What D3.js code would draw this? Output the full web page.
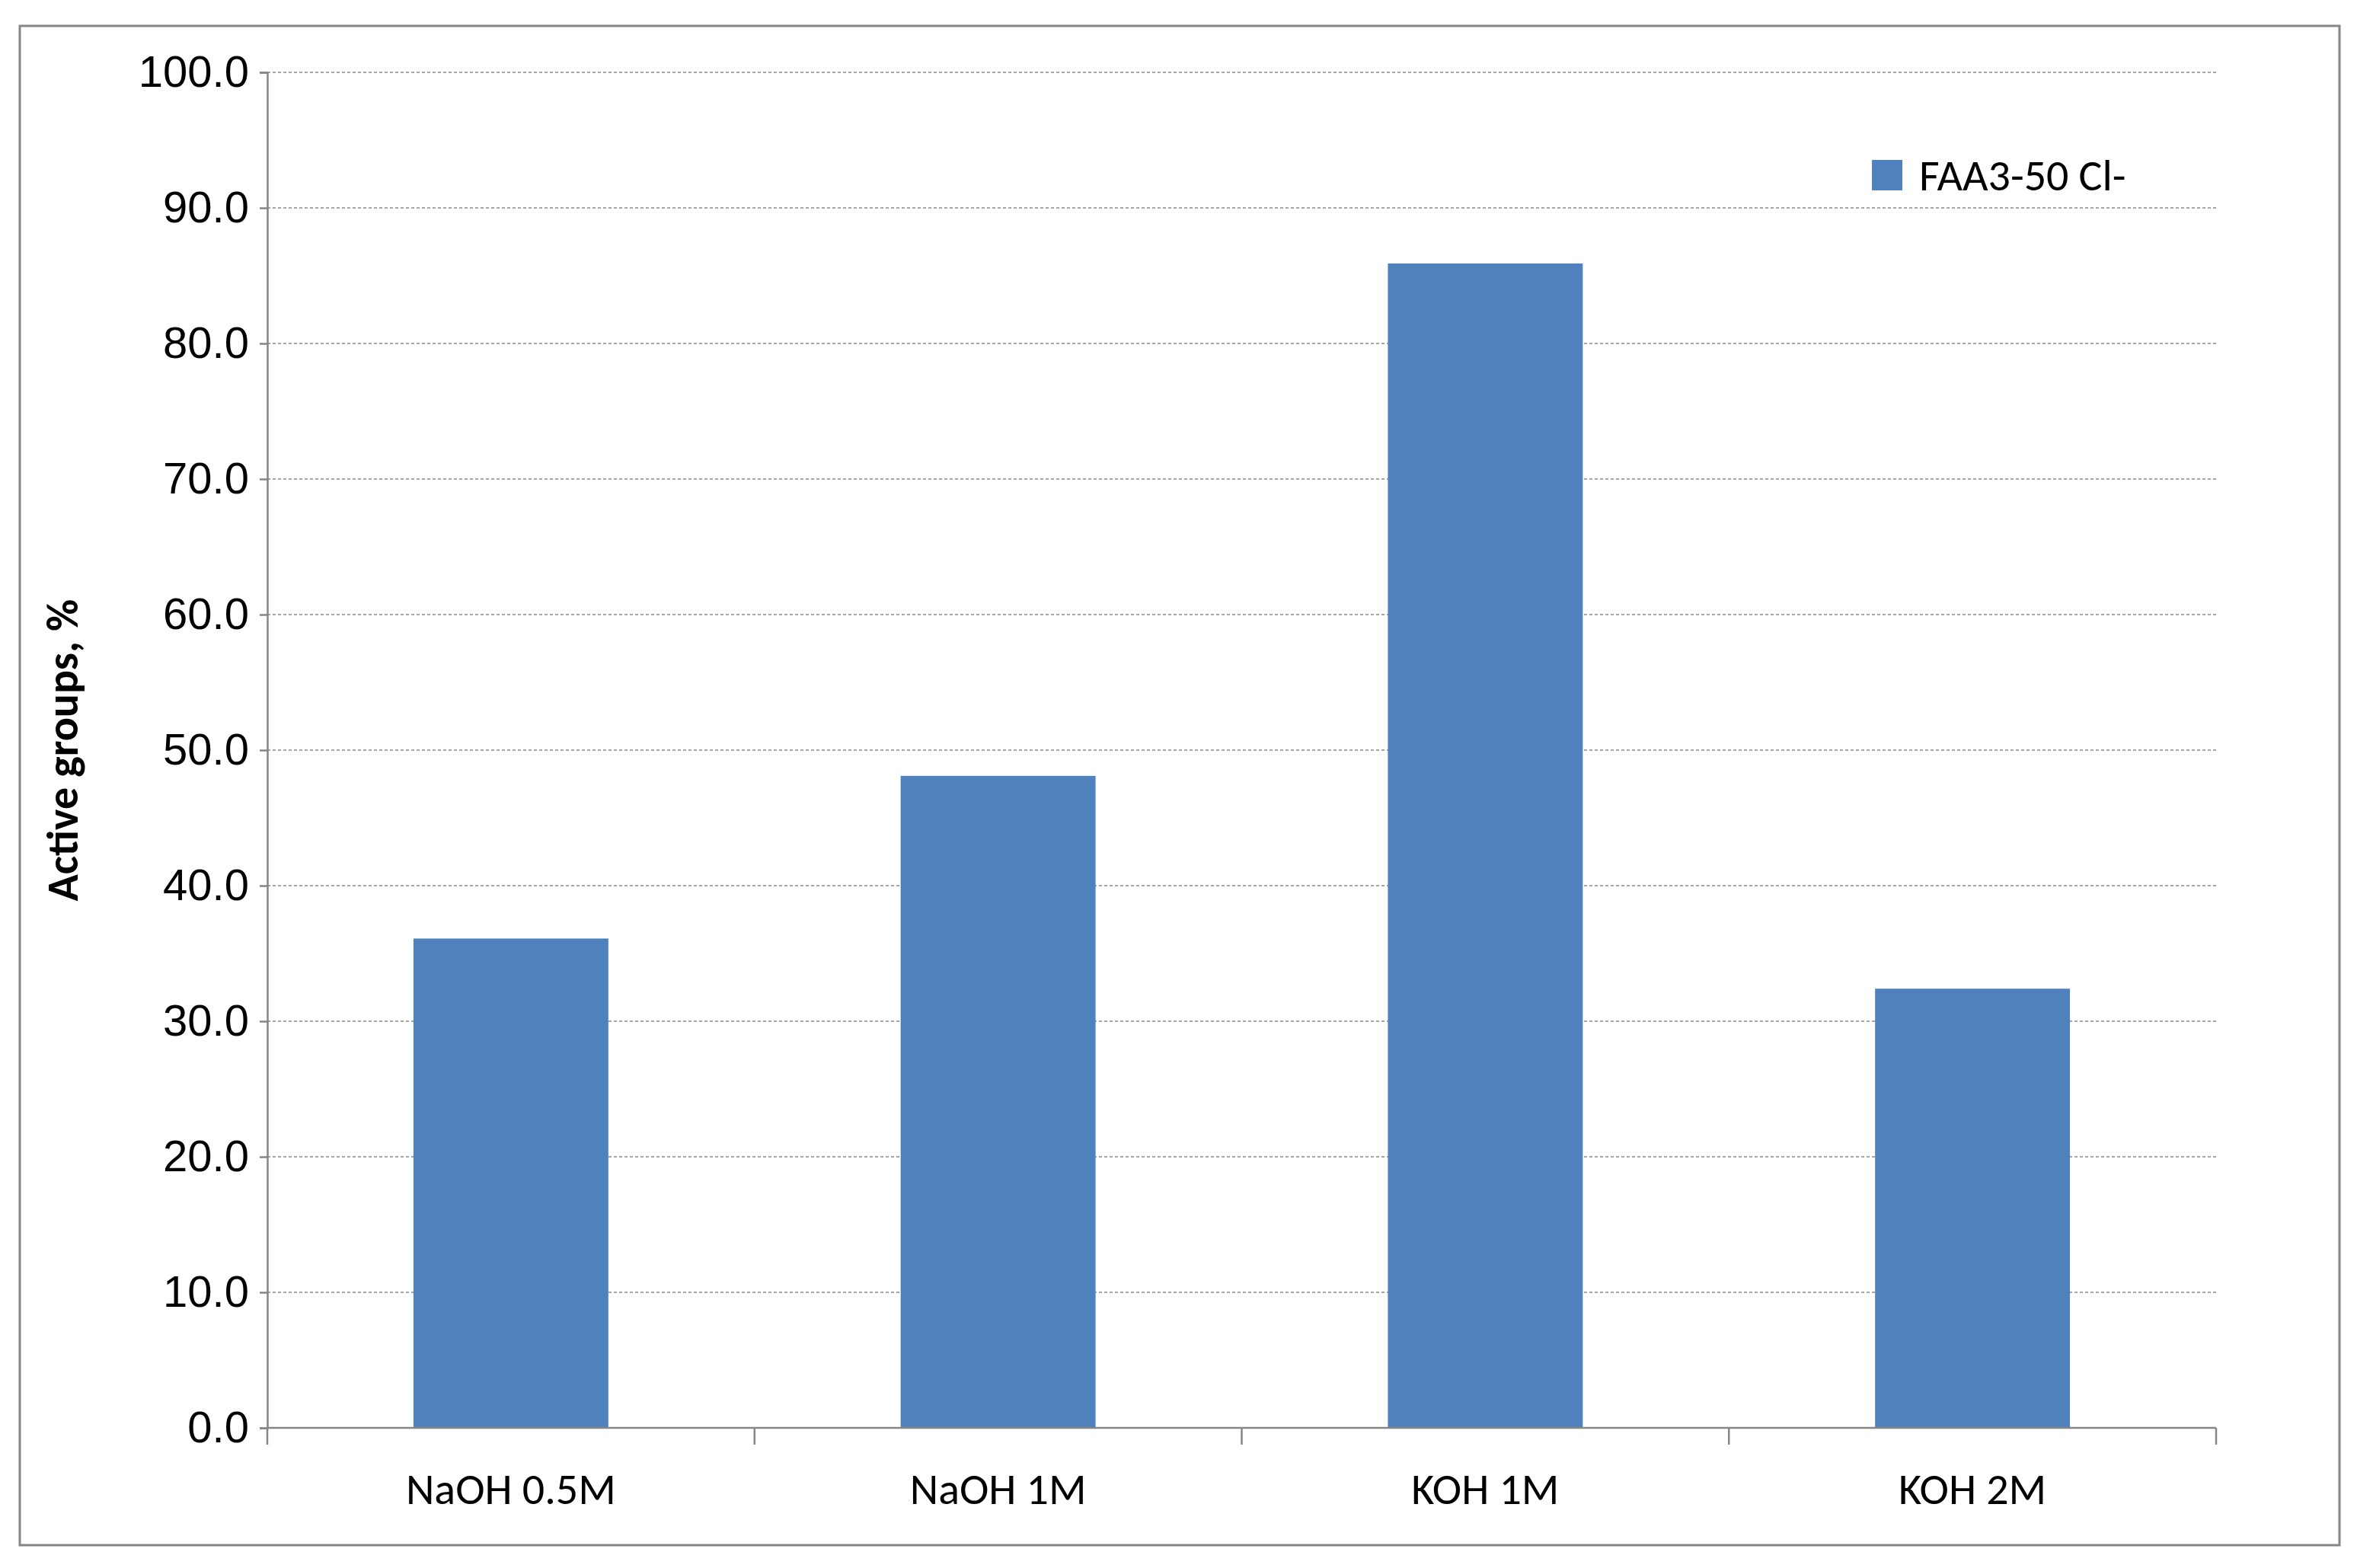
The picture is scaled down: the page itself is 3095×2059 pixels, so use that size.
<!DOCTYPE html>
<html><head><meta charset="utf-8">
<script src="https://cdn.jsdelivr.net/npm/d3@7"></script>
<style>body{margin:0;background:#fff}svg{display:block}</style>
</head><body>
<script>
// chart data
const categories = ["NaOH 0.5M", "NaOH 1M", "KOH 1M", "KOH 2M"];
const values = [36.1, 48.1, 85.9, 32.4];
const seriesName = "FAA3-50 Cl-";
const yTicks = [0, 10, 20, 30, 40, 50, 60, 70, 80, 90, 100];

const W = 3095, H = 2059;
const svg = d3.select("body").append("svg").attr("width", W).attr("height", H)
  .style("font-family", "Calibri, Carlito, 'Open Sans', sans-serif");

// outer frame
svg.append("rect").attr("x", 26).attr("y", 34).attr("width", 3046).attr("height", 1995)
  .attr("fill", "none").attr("stroke", "#868686").attr("stroke-width", 3);

const plotL = 351, plotR = 2910, plotT = 95, plotB = 1875;
const x = d3.scaleBand().domain(categories).range([plotL, plotR]).paddingInner(0.6).paddingOuter(0.3);
const y = d3.scaleLinear().domain([0, 100]).range([plotB, plotT]);

// gridlines
svg.append("g").selectAll("line").data(yTicks.slice(1)).join("line")
  .attr("x1", plotL).attr("x2", plotR).attr("y1", d => y(d)).attr("y2", d => y(d))
  .attr("stroke", "#888").attr("stroke-width", 1.5).attr("stroke-dasharray", "4,3");

// bars
svg.append("g").selectAll("rect").data(values).join("rect")
  .attr("x", (d, i) => x(categories[i])).attr("width", x.bandwidth())
  .attr("y", d => y(d)).attr("height", d => plotB - y(d)).attr("fill", "#4f81bd");

// y axis
const ya = svg.append("g").attr("transform", `translate(${plotL},0)`)
  .call(d3.axisLeft(y).tickValues(yTicks).tickFormat(d3.format(".1f")).tickSize(10).tickPadding(14));
ya.selectAll("text").attr("font-size", 58).attr("fill", "#000");
ya.selectAll("line, path").attr("stroke", "#868686").attr("stroke-width", 2.5);

// x axis
const step = (plotR - plotL) / categories.length;
const xa = svg.append("g");
xa.append("line").attr("x1", plotL).attr("x2", plotR).attr("y1", plotB).attr("y2", plotB)
  .attr("stroke", "#868686").attr("stroke-width", 2.5);
xa.selectAll("line.t").data(d3.range(categories.length + 1)).join("line").attr("class", "t")
  .attr("x1", i => plotL + i * step).attr("x2", i => plotL + i * step)
  .attr("y1", plotB).attr("y2", plotB + 22).attr("stroke", "#868686").attr("stroke-width", 2.5);
xa.selectAll("text").data(categories).join("text")
  .attr("x", (d, i) => plotL + (i + 0.5) * step).attr("y", plotB + 100)
  .attr("text-anchor", "middle").attr("font-size", 58).text(d => d);

// y title
svg.append("text").attr("transform", `translate(102,${(plotT + plotB) / 2}) rotate(-90)`)
  .attr("text-anchor", "middle").attr("font-size", 58).attr("font-weight", "bold")
  .text("Active groups, %");

// legend
svg.append("rect").attr("x", 2458).attr("y", 210).attr("width", 40).attr("height", 40).attr("fill", "#4f81bd");
svg.append("text").attr("x", 2520).attr("y", 250).attr("font-size", 58).text(seriesName);
</script>
</body></html>
